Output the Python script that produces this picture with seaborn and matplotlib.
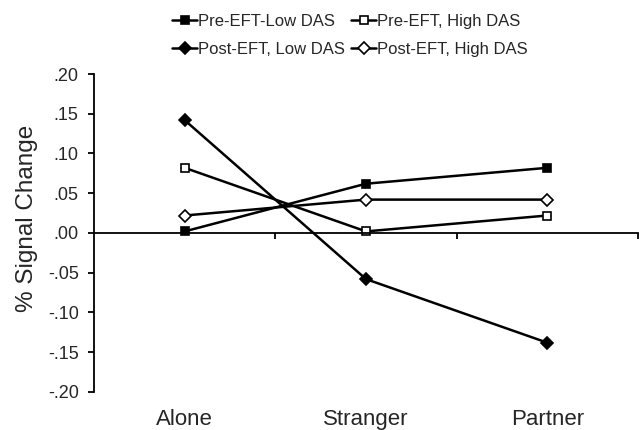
import pandas as pd
import seaborn as sns
import numpy as np
import matplotlib.pyplot as plt

conditions = ['Alone', 'Stranger', 'Partner']
pre_low = [0.002, 0.062, 0.082]
pre_high = [0.082, 0.002, 0.022]
post_low = [0.142, -0.058, -0.138]
post_high = [0.022, 0.042, 0.042]
series_names = ['Pre-EFT-Low DAS', 'Pre-EFT, High DAS', 'Post-EFT, Low DAS', 'Post-EFT, High DAS']
y_ticks = [-0.20, -0.15, -0.10, -0.05, 0.00, 0.05, 0.10, 0.15, 0.20]

sns.set_style('white')
plt.rcParams['font.family'] = ['Liberation Sans', 'DejaVu Sans']

df = pd.DataFrame({
    'cond': conditions * 4,
    'val': pre_low + pre_high + post_low + post_high,
    'group': np.repeat(series_names, 3),
})

# marker style per group: (marker, face, size)
styles = {
    'Pre-EFT-Low DAS': ('s', 'black', 5.8),
    'Pre-EFT, High DAS': ('s', 'white', 5.8),
    'Post-EFT, Low DAS': ('D', 'black', 6.4),
    'Post-EFT, High DAS': ('D', 'white', 6.4),
}

fig = plt.figure(figsize=(6.41, 4.30), dpi=100)
ax = fig.add_axes([0.1466, 0.0884, 0.8487, 0.7395])

for name in series_names:
    m, fc, ms = styles[name]
    sub = df[df['group'] == name]
    sns.lineplot(data=sub, x='cond', y='val', ax=ax, color='black', lw=1.8,
                 marker=m, markerfacecolor=fc, markeredgecolor='black',
                 markeredgewidth=1.2, markersize=ms, label=name, sort=False)

ax.set_xlim(-0.5, 2.5)
ax.set_ylim(-0.20, 0.20)
ax.spines['top'].set_visible(False)
ax.spines['right'].set_visible(False)
ax.spines['bottom'].set_position(('data', 0))
for s in ['left', 'bottom']:
    ax.spines[s].set_linewidth(1.3)
    ax.spines[s].set_color('black')

ax.set_xticks([0.5, 1.5, 2.5])
ax.set_xticklabels([])
ax.tick_params(axis='x', direction='out', length=4.5, width=1.3, color='black', bottom=True)
ax.set_yticks(y_ticks)
ax.set_yticklabels([f'{v:.2f}'.replace('0.', '.') for v in y_ticks], fontsize=13)
ax.tick_params(axis='y', direction='out', length=4, width=1.3, color='black', left=True, pad=7)
ax.set_xlabel('')
ax.set_ylabel('% Signal Change', fontsize=17.5)
ax.yaxis.set_label_coords(-0.103, 0.547)

for i, c in enumerate(conditions):
    ax.text(i, -0.085, c, transform=ax.get_xaxis_transform(), ha='center', va='center', fontsize=16)

h, l = ax.get_legend_handles_labels()
ax.get_legend().remove()
order = [0, 2, 1, 3]
fig.legend([h[i] for i in order], [l[i] for i in order], loc='center', bbox_to_anchor=(0.546, 0.918),
           ncol=2, frameon=False, fontsize=12, handlelength=1.5, handletextpad=0.05,
           columnspacing=0.4, labelspacing=0.75, borderpad=0)

fig.savefig('out.png', dpi=100)
